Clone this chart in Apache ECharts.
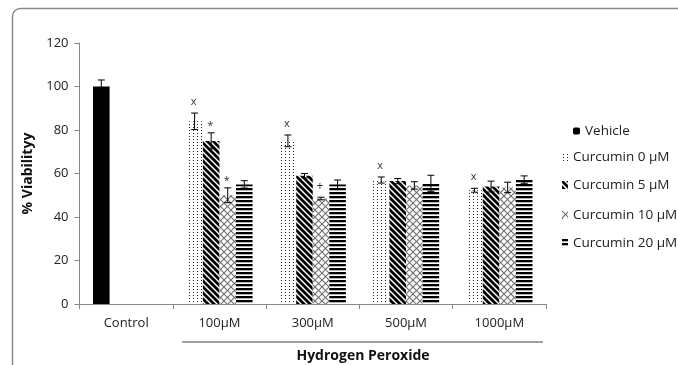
<!DOCTYPE html>
<html>
<head>
<meta charset="utf-8">
<script src="https://cdn.jsdelivr.net/npm/echarts@6/dist/echarts.min.js"></script>
<style>html,body{margin:0;padding:0;background:#fff}#c{width:678px;height:365px}</style>
</head>
<body>
<div id="c"></div>
<script>
const categories = ['Control', '100µM', '300µM', '500µM', '1000µM'];
const seriesNames = ['Vehicle', 'Curcumin 0 µM', 'Curcumin 5 µM', 'Curcumin 10 µM', 'Curcumin 20 µM'];
const vehicle    = [100, null, null, null, null];
const vehicleErr = [3, null, null, null, null];
const cur0       = [null, 84, 75, 57, 52.3];
const cur0Err    = [null, 3.8, 2.7, 1.4, 0.9];
const cur5       = [null, 75, 59, 56.5, 54];
const cur5Err    = [null, 3.7, 1, 1.2, 2.5];
const cur10      = [null, 50, 48.5, 54.5, 53.6];
const cur10Err   = [null, 3.4, 0.6, 1.7, 2.4];
const cur20      = [null, 55, 55, 55.5, 57.2];
const cur20Err   = [null, 1.7, 2, 3.7, 1.7];
// significance marks: [category index, series slot, symbol]
const sigLabels = [[1, 0, 'x'], [1, 1, '*'], [1, 2, '*'], [2, 0, 'x'], [2, 2, '+'], [3, 0, 'x'], [4, 0, 'x']];
const yTicks = { min: 0, max: 120, interval: 20 };

const FONT = 'Open Sans';
const GAP = 0.29;
const SLOTS = 4;

function makePattern(w, h, draw) {
  const c = document.createElement('canvas');
  c.width = w; c.height = h;
  const g = c.getContext('2d');
  g.fillStyle = '#fff'; g.fillRect(0, 0, w, h);
  draw(g, w, h);
  return { image: c, repeat: 'repeat' };
}
const patDots = makePattern(4, 3, (g) => { g.fillStyle = '#222'; g.fillRect(1, 1, 1, 1); });
const patDiag = makePattern(6, 6, (g) => {
  g.strokeStyle = '#000'; g.lineWidth = 2.7;
  for (let k = -1; k <= 1; k++) { g.beginPath(); g.moveTo(-2, -2 + 6 * k); g.lineTo(8, 8 + 6 * k); g.stroke(); }
});
const patCross = makePattern(7, 7, (g) => {
  g.strokeStyle = '#6e6e6e'; g.lineWidth = 1.1;
  for (let k = -1; k <= 2; k++) {
    g.beginPath(); g.moveTo(-2, -2 + 7 * k); g.lineTo(9, 9 + 7 * k); g.stroke();
    g.beginPath(); g.moveTo(-2, 9 + 7 * k - 7); g.lineTo(9, -2 + 7 * k - 7); g.stroke();
  }
});
const patHoriz = makePattern(4, 4, (g) => { g.fillStyle = '#000'; g.fillRect(0, 0, 4, 2); g.fillStyle = '#666'; g.fillRect(0, 2, 4, 0.5); });

const values = [vehicle, cur0, cur5, cur10, cur20];
const errs = [vehicleErr, cur0Err, cur5Err, cur10Err, cur20Err];
const slotOf = [0, 0, 1, 2, 3];
const fills = ['#000', patDots, patDiag, patCross, patHoriz];

const errData = [];
values.forEach((arr, s) => arr.forEach((v, i) => {
  if (v != null) errData.push([i, slotOf[s], v, errs[s][i]]);
}));
const sigData = sigLabels.map(([cat, slot, t]) => {
  const s = slot === 0 ? (cat === 0 ? 0 : 1) : slot + 1;
  return [cat, slot, values[s][cat] + errs[s][cat]];
});

function slotX(api, cat, v, slot) {
  const catW = api.size([1, 0])[0];
  const inner = catW * (1 - GAP);
  const barW = inner / SLOTS;
  return api.coord([cat, v])[0] - inner / 2 + barW * (slot + 0.5);
}

const barSeries = seriesNames.map((name, s) => ({
  name, type: 'bar', stack: s <= 1 ? 'v0' : 's' + s,
  data: values[s].map(v => v == null ? '-' : v),
  itemStyle: { color: fills[s] },
  barGap: 0, barCategoryGap: (GAP * 100) + '%',
  emphasis: { disabled: true }, silent: true
}));

const legendTops = [132, 158, 186, 216, 244];
const legends = seriesNames.map((name, s) => ({
  data: [{ name, icon: s === 0 ? 'roundRect' : 'rect' }],
  left: s === 0 ? 573 : 562, top: legendTops[s] - 8,
  padding: 0, itemWidth: s === 0 ? 7 : 6, itemHeight: s === 0 ? 7 : 8,
  selectedMode: false,
  textStyle: { fontFamily: FONT, fontSize: 13.5, color: '#222' }
}));

const chart = echarts.init(document.getElementById('c'));
chart.setOption({
  animation: false,
  backgroundColor: '#fff',
  grid: { left: 79.5, right: 132, top: 43, bottom: 61, containLabel: false },
  legend: legends,
  xAxis: {
    type: 'category', data: categories,
    axisLine: { lineStyle: { color: '#868686', width: 1 } },
    axisTick: { show: true, length: 5, alignWithLabel: false, lineStyle: { color: '#868686' } },
    axisLabel: { fontFamily: FONT, fontSize: 13, color: '#222', margin: 13 }
  },
  yAxis: {
    type: 'value', min: yTicks.min, max: yTicks.max, interval: yTicks.interval,
    name: '% Viabilityy', nameLocation: 'middle', nameGap: 42,
    nameTextStyle: { fontFamily: FONT, fontSize: 14, fontWeight: 'bold', color: '#111' },
    axisLine: { show: true, lineStyle: { color: '#868686', width: 1 } },
    axisTick: { show: true, length: 5, lineStyle: { color: '#868686' } },
    splitLine: { show: false },
    axisLabel: { fontFamily: FONT, fontSize: 13, color: '#222', margin: 11 }
  },
  series: barSeries.concat([
    {
      type: 'custom', name: 'err', data: errData, encode: { x: 0, y: 2 }, z: 5, silent: true,
      renderItem: (params, api) => {
        const cat = api.value(0), slot = api.value(1), v = api.value(2), e = api.value(3);
        const x = slotX(api, cat, v, slot);
        const yt = api.coord([cat, v + e])[1], yb = api.coord([cat, v - e])[1];
        const cw = 3.5;
        const st = { stroke: '#000', lineWidth: 1 };
        return { type: 'group', children: [
          { type: 'line', shape: { x1: x, y1: yt, x2: x, y2: yb }, style: st },
          { type: 'line', shape: { x1: x - cw, y1: yt, x2: x + cw, y2: yt }, style: st },
          { type: 'line', shape: { x1: x - cw, y1: yb, x2: x + cw, y2: yb }, style: st }
        ] };
      }
    },
    {
      type: 'custom', name: 'sig', data: sigData, encode: { x: 0, y: 2 }, z: 6, silent: true,
      renderItem: (params, api) => {
        const cat = api.value(0), slot = api.value(1), top = api.value(2);
        const t = sigLabels[params.dataIndex][2];
        const x = slotX(api, cat, top, slot) - 1;
        const y = api.coord([cat, top])[1] - (t === '*' ? 7 : 11);
        return { type: 'text', x, y, style: { text: t, fontFamily: FONT, fontSize: t === '+' ? 12 : 11, fill: '#333', align: 'center', verticalAlign: 'middle' } };
      }
    }
  ]),
  graphic: [
    { type: 'rect', shape: { x: 12.5, y: 8.5, width: 720, height: 420, r: 8 }, style: { fill: 'none', stroke: '#8a8a8a', lineWidth: 1.5 }, z: -1 },
    { type: 'line', shape: { x1: 182, y1: 342, x2: 543, y2: 342 }, style: { stroke: '#808080', lineWidth: 1.5 } },
    { type: 'text', x: 363, y: 356, style: { text: 'Hydrogen Peroxide', fontFamily: FONT, fontSize: 14, fontWeight: 'bold', fill: '#111', align: 'center', verticalAlign: 'middle' } }
  ]
});
</script>
</body>
</html>
